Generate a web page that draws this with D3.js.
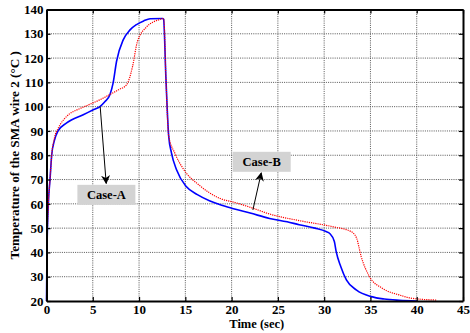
<!DOCTYPE html>
<html>
<head>
<meta charset="utf-8">
<script src="https://cdn.jsdelivr.net/npm/d3@7"></script>
<style>
  html, body { margin: 0; padding: 0; background: #fff; }
  svg { display: block; }
  text { font-family: "Liberation Serif", "Times New Roman", serif; font-weight: bold; fill: #000; }
</style>
</head>
<body>
<script>
// Case-A: temperature of SMA wire 2 over time (solid blue)
const timeA = [0, 0.05, 0.2, 0.38, 0.56, 0.85, 1.25, 2.18, 3.97, 5.0, 5.8, 6.3, 6.85, 7.2, 7.57, 8.3, 9.0, 9.73, 10.5, 11.2, 12.55, 12.65, 12.9, 13.2, 13.5, 14.05, 15.1, 16.3, 17.6, 18.7, 20.2, 22.0, 24.1, 26.0, 27.3, 29.0, 30.2, 30.6, 31.1, 31.3, 31.8, 32.4, 33.5, 35.1, 36.5, 38.1, 40.0];
const tempA = [20, 40, 60, 70, 80, 86, 90, 93.3, 96.7, 98.6, 100.1, 102.0, 104.9, 109.8, 118.7, 127.6, 131.5, 133.8, 135.3, 136.2, 136.3, 136.0, 112, 88, 81, 74, 67.1, 63.8, 61.3, 59.7, 58.0, 56.2, 54.0, 52.6, 51.4, 50.0, 48.6, 47.8, 44.5, 40.3, 34.1, 28.7, 24.5, 21.8, 20.8, 20.3, 20];

// Case-B: temperature of SMA wire 2 over time (dotted red)
const timeB = [0, 0.05, 0.2, 0.38, 0.56, 0.85, 1.25, 1.46, 2.18, 3.6, 4.15, 5.8, 6.85, 7.8, 8.65, 9.3, 9.8, 10.8, 11.5, 12.25, 12.55, 12.68, 12.9, 13.2, 13.86, 14.76, 16.56, 18.7, 20.5, 22.3, 24.1, 27.3, 30.9, 32.9, 33.5, 34.0, 34.9, 36.3, 38.1, 39.5, 42.1];
const tempB = [20, 40, 60, 70, 80, 87, 91, 92.5, 96, 99.2, 100.1, 102.9, 105, 107, 109, 116.6, 126.5, 132.8, 134.8, 135.9, 136.3, 136.0, 112, 88, 80.9, 74.5, 67.5, 62.3, 60.4, 58.2, 55.8, 53.1, 50.6, 48.6, 45.9, 38.3, 30, 25.2, 22.5, 21.1, 20.4];

// Axis ticks
const xTicks = [0, 5, 10, 15, 20, 25, 30, 35, 40, 45];
const yTicks = [20, 30, 40, 50, 60, 70, 80, 90, 100, 110, 120, 130, 140];

// Annotations: label, label centre (time, temp), arrow tail and head (time, temp)
const noteLabels = ["Case-A", "Case-B"];
const noteCentre = [[6.47, 63.7], [23.25, 77.3]];
const arrowTail = [[5.8, 100.0], [22.3, 57.5]];
const arrowHead = [[6.45, 68.4], [23.2, 72.7]];

const W = 470, H = 333;
const padL = 46.5, padR = 463, padT = 9.5, padB = 301;

const svg = d3.select("body").append("svg").attr("width", W).attr("height", H);

const x = d3.scaleLinear().domain([0, 45]).range([padL, padR]);
const y = d3.scaleLinear().domain([20, 140]).range([padB, padT]);

// Dotted grid
const grid = svg.append("g").attr("stroke", "#555").attr("stroke-width", 1).attr("stroke-dasharray", "1,1.2");
grid.selectAll(".gx").data(xTicks.slice(1, -1)).join("line")
  .attr("x1", d => x(d)).attr("x2", d => x(d)).attr("y1", padT).attr("y2", padB);
grid.selectAll(".gy").data(yTicks.slice(1, -1)).join("line")
  .attr("y1", d => y(d)).attr("y2", d => y(d)).attr("x1", padL).attr("x2", padR);

// Curves
const lineA = d3.line().x((d, i) => x(timeA[i])).y(d => y(d)).curve(d3.curveMonotoneX);
const lineB = d3.line().x((d, i) => x(timeB[i])).y(d => y(d)).curve(d3.curveMonotoneX);

svg.append("path").attr("d", lineA(tempA)).attr("fill", "none")
  .attr("stroke", "#0000ff").attr("stroke-width", 1.6);
svg.append("path").attr("d", lineB(tempB)).attr("fill", "none")
  .attr("stroke", "#ff0000").attr("stroke-width", 1.2).attr("stroke-dasharray", "1.2,1");

// Axes with inward ticks on all four sides
const fmt = d3.format("d");
const axB = svg.append("g").attr("transform", `translate(0,${padB})`)
  .call(d3.axisBottom(x).tickValues(xTicks).tickSizeInner(-4).tickSizeOuter(0).tickPadding(4).tickFormat(fmt));
const axL = svg.append("g").attr("transform", `translate(${padL},0)`)
  .call(d3.axisLeft(y).tickValues(yTicks).tickSizeInner(-4).tickSizeOuter(0).tickPadding(3).tickFormat(fmt));
const axT = svg.append("g").attr("transform", `translate(0,${padT})`)
  .call(d3.axisTop(x).tickValues(xTicks).tickSizeInner(-4).tickSizeOuter(0).tickFormat(""));
const axR = svg.append("g").attr("transform", `translate(${padR},0)`)
  .call(d3.axisRight(y).tickValues(yTicks).tickSizeInner(-4).tickSizeOuter(0).tickFormat(""));

[axB, axL, axT, axR].forEach(a => {
  a.select(".domain").attr("stroke", "#000").attr("stroke-width", 2);
  a.selectAll(".tick line").attr("stroke", "#000").attr("stroke-width", 1.2);
  a.selectAll("text").attr("font-family", "Liberation Serif, Times New Roman, serif")
    .attr("font-weight", "bold").attr("font-size", 13).attr("fill", "#000");
});

// Axis titles
svg.append("text").attr("x", (padL + padR) / 2 + 2).attr("y", 328)
  .attr("text-anchor", "middle").attr("font-size", 12.5).text("Time (sec)");
svg.append("text").attr("transform", `translate(19,${(padT + padB) / 2}) rotate(-90)`)
  .attr("text-anchor", "middle").attr("font-size", 13.2).text("Temperature of the SMA wire 2 (°C )");

// Annotation arrows and labelled boxes
svg.append("defs").append("marker").attr("id", "arr")
  .attr("viewBox", "0 0 10 10").attr("refX", 9).attr("refY", 5)
  .attr("markerWidth", 9).attr("markerHeight", 9).attr("markerUnits", "userSpaceOnUse")
  .attr("orient", "auto")
  .append("path").attr("d", "M0,0 L10,5 L0,10 L3,5 Z").attr("fill", "#000");

noteLabels.forEach((lab, i) => {
  svg.append("line")
    .attr("x1", x(arrowTail[i][0])).attr("y1", y(arrowTail[i][1]))
    .attr("x2", x(arrowHead[i][0])).attr("y2", y(arrowHead[i][1]))
    .attr("stroke", "#000").attr("stroke-width", 1).attr("marker-end", "url(#arr)");
  const cx = x(noteCentre[i][0]), cy = y(noteCentre[i][1]);
  svg.append("rect").attr("x", cx - 29).attr("y", cy - 10).attr("width", 58).attr("height", 20)
    .attr("fill", "#d3d3d3");
  svg.append("text").attr("x", cx).attr("y", cy + 4.5).attr("text-anchor", "middle")
    .attr("font-size", 12.5).text(lab);
});
</script>
</body>
</html>
